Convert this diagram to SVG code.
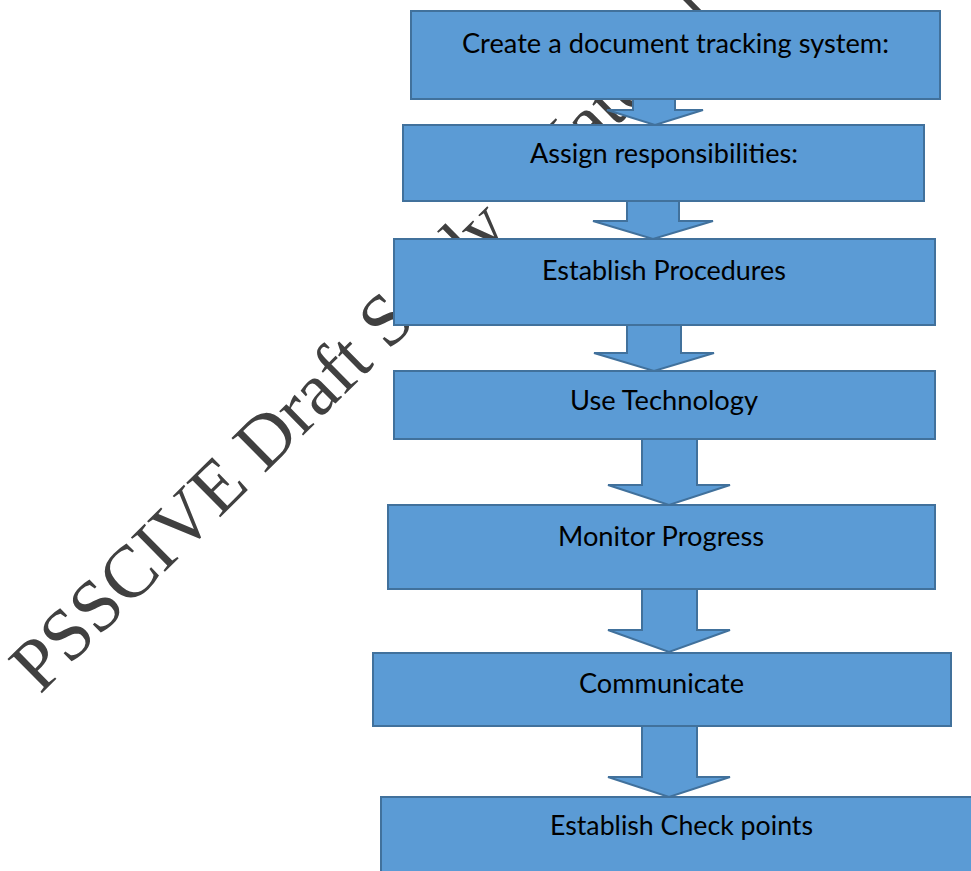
<svg xmlns="http://www.w3.org/2000/svg" width="971" height="871" viewBox="0 0 971 871">
  <style>
    .box { fill: #5B9BD5; stroke: #41719C; stroke-width: 2; }
    .arrow { fill: #5B9BD5; stroke: #41719C; stroke-width: 2; stroke-linejoin: miter; }
    .label { font-family: Lato, "Open Sans", sans-serif; font-size: 27px; fill: #000; text-anchor: middle; }
    .mark { font-family: "Liberation Serif", serif; font-size: 74px; fill: #404040; }
  </style>
  <rect width="971" height="871" fill="#fff"/>

  <!-- diagonal watermark, sits under everything -->
  <g id="watermark">
    <text class="mark" x="40" y="695" transform="rotate(-44.6 40 695)">PSSCIVE Draft Study<tspan dx="28"> Material</tspan></text>
  </g>

  <!-- block arrows between steps -->
  <g id="connectors">
    <polygon class="arrow" points="633,99 675,99 675,110 703,110 655,125 607,110 633,110"/>
    <polygon class="arrow" points="627,201 679,201 679,221 713,221 653,239 593,221 627,221"/>
    <polygon class="arrow" points="627,325 681,325 681,353 714,353 654,371 594,353 627,353"/>
    <polygon class="arrow" points="642,439 697,439 697,485 730,485 669,505 608,485 642,485"/>
    <polygon class="arrow" points="642,589 697,589 697,630 730,630 669,652 608,630 642,630"/>
    <polygon class="arrow" points="642,726 697,726 697,777 730,777 669,797 608,777 642,777"/>
  </g>

  <g id="step-tracking">
    <rect class="box" x="411" y="11" width="529" height="88"/>
    <text class="label" x="675.5" y="53" textLength="427" lengthAdjust="spacingAndGlyphs">Create a document tracking system:</text>
  </g>
  <g id="step-responsibilities">
    <rect class="box" x="403" y="125" width="521" height="76"/>
    <text class="label" x="664" y="163" textLength="268" lengthAdjust="spacingAndGlyphs">Assign responsibilities:</text>
  </g>
  <g id="step-procedures">
    <rect class="box" x="394" y="239" width="541" height="86"/>
    <text class="label" x="664" y="280" textLength="244" lengthAdjust="spacingAndGlyphs">Establish Procedures</text>
  </g>
  <g id="step-technology">
    <rect class="box" x="394" y="371" width="541" height="68"/>
    <text class="label" x="664" y="410" textLength="188" lengthAdjust="spacingAndGlyphs">Use Technology</text>
  </g>
  <g id="step-monitor">
    <rect class="box" x="388" y="505" width="547" height="84"/>
    <text class="label" x="661" y="546" textLength="206" lengthAdjust="spacingAndGlyphs">Monitor Progress</text>
  </g>
  <g id="step-communicate">
    <rect class="box" x="373" y="653" width="578" height="73"/>
    <text class="label" x="661.5" y="693" textLength="165" lengthAdjust="spacingAndGlyphs">Communicate</text>
  </g>
  <g id="step-checkpoints">
    <rect class="box" x="381" y="797" width="602" height="90"/>
    <text class="label" x="681.5" y="835" textLength="263" lengthAdjust="spacingAndGlyphs">Establish Check points</text>
  </g>
</svg>
